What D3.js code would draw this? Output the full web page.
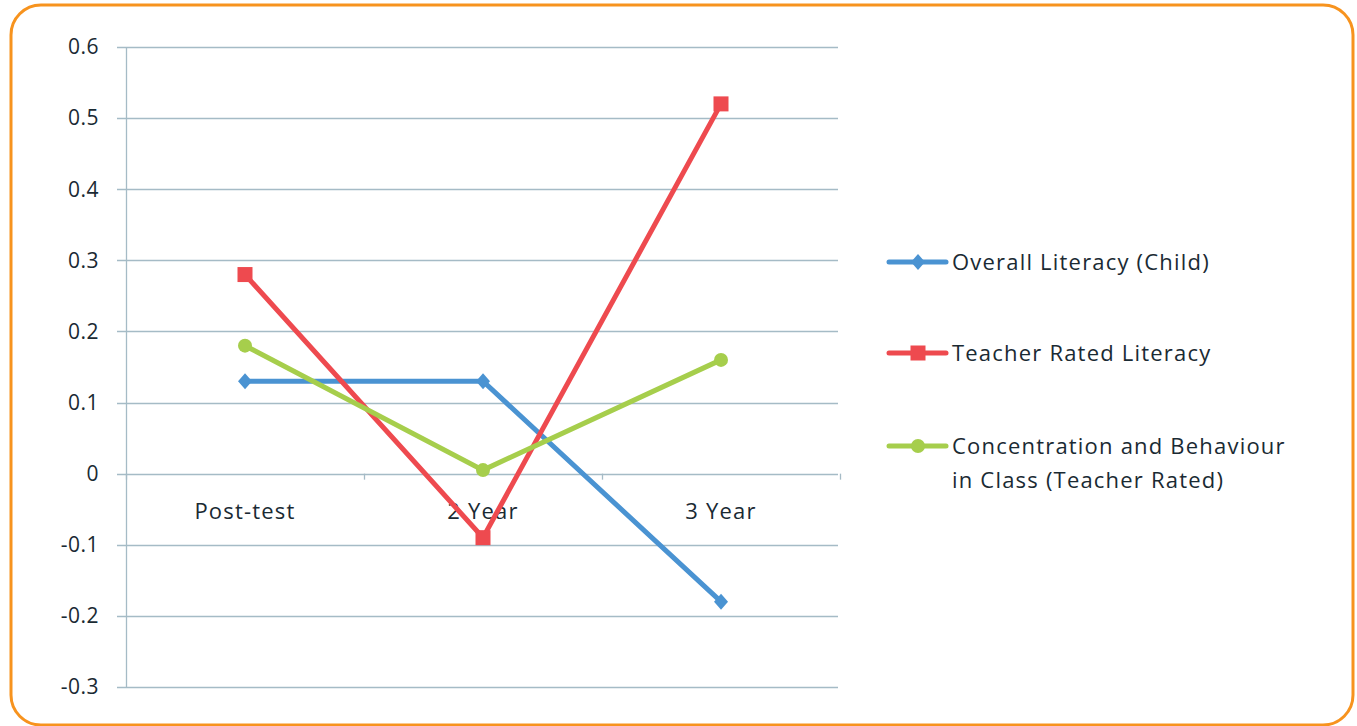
<!DOCTYPE html>
<html><head><meta charset="utf-8">
<script src="https://cdn.jsdelivr.net/npm/d3@7"></script>
<style>body{margin:0;background:#fff;}svg{display:block;font-family:"Open Sans",sans-serif;}</style>
</head><body>
<script>
const categories = ["Post-test", "2 Year", "3 Year"];
const overallLiteracy = [0.13, 0.13, -0.18];
const teacherRatedLiteracy = [0.28, -0.09, 0.52];
const concentrationBehaviour = [0.18, 0.005, 0.16];
const seriesNames = ["Overall Literacy (Child)", "Teacher Rated Literacy", "Concentration and Behaviour in Class (Teacher Rated)"];
const yTicks = [-0.3, -0.2, -0.1, 0, 0.1, 0.2, 0.3, 0.4, 0.5, 0.6];

(function () {
const W = 1357, H = 726;
const svg = d3.select("body").append("svg").attr("width", W).attr("height", H);

svg.append("rect").attr("x", 11).attr("y", 5).attr("width", 1342).attr("height", 720)
  .attr("rx", 30).attr("ry", 30).attr("fill", "#fff").attr("stroke", "#F7931E").attr("stroke-width", 3);

const pLeft = 126, pRight = 840, pTop = 47, pBottom = 687;
const x = d3.scaleBand().domain(categories).range([pLeft, pRight]);
const y = d3.scaleLinear().domain([-0.3, 0.6]).range([pBottom, pTop]);
const gridColor = "#A5BBC6", textColor = "#1A2A33";

svg.append("g").selectAll("line").data(yTicks).join("line")
  .attr("x1", pLeft - 9).attr("x2", pRight - 2)
  .attr("y1", d => Math.round(y(d)) + 0.5).attr("y2", d => Math.round(y(d)) + 0.5)
  .attr("stroke", gridColor).attr("stroke-width", 1.3);
svg.append("line").attr("x1", pLeft + 0.5).attr("x2", pLeft + 0.5).attr("y1", pTop).attr("y2", pBottom)
  .attr("stroke", gridColor).attr("stroke-width", 1.3);
svg.append("g").selectAll("text").data(yTicks).join("text")
  .attr("x", 99).attr("y", d => y(d)).attr("dy", "0.35em").attr("text-anchor", "end")
  .attr("font-size", 21).attr("letter-spacing", 0.5).attr("fill", textColor)
  .text(d => d === 0 ? "0" : d3.format(".1f")(d).replace("−", "-"));
const bounds = categories.map(c => x(c)).concat([x(categories[categories.length - 1]) + x.bandwidth()]);
svg.append("g").selectAll("line").data(bounds).join("line")
  .attr("x1", d => Math.round(d) + 0.5).attr("x2", d => Math.round(d) + 0.5)
  .attr("y1", y(0)).attr("y2", y(0) + 6).attr("stroke", gridColor).attr("stroke-width", 1.3);
svg.append("g").selectAll("text").data(categories).join("text")
  .attr("x", d => x(d) + x.bandwidth() / 2).attr("y", y(0) + 38).attr("dy", "0.35em").attr("text-anchor", "middle")
  .attr("font-size", 22).attr("letter-spacing", 1.2).attr("fill", textColor).text(d => d);

const series = [
  { name: seriesNames[0], values: overallLiteracy, color: "#4A93D2", shape: "diamond" },
  { name: seriesNames[1], values: teacherRatedLiteracy, color: "#EE4A4F", shape: "square" },
  { name: seriesNames[2], values: concentrationBehaviour, color: "#A6CE4C", shape: "circle" }
];
const line = d3.line().x((d, i) => x(categories[i]) + x.bandwidth() / 2).y(d => y(d));

function marker(g, shape, cx, cy, color) {
  if (shape === "diamond") {
    g.append("path").attr("d", `M${cx},${cy-8}L${cx+7},${cy}L${cx},${cy+8}L${cx-7},${cy}Z`).attr("fill", color);
  } else if (shape === "square") {
    g.append("rect").attr("x", cx - 7.5).attr("y", cy - 7.5).attr("width", 15).attr("height", 15).attr("fill", color);
  } else {
    g.append("circle").attr("cx", cx).attr("cy", cy).attr("r", 7).attr("fill", color);
  }
}

series.forEach(s => {
  const g = svg.append("g");
  g.append("path").attr("d", line(s.values)).attr("fill", "none").attr("stroke", s.color)
    .attr("stroke-width", 5).attr("stroke-linejoin", "miter");
  s.values.forEach((v, i) => marker(g, s.shape, x(categories[i]) + x.bandwidth() / 2, y(v), s.color));
});

const legY = [262, 353, 446];
series.forEach((s, i) => {
  const g = svg.append("g");
  g.append("line").attr("x1", 889).attr("x2", 946).attr("y1", legY[i]).attr("y2", legY[i])
    .attr("stroke", s.color).attr("stroke-width", 5).attr("stroke-linecap", "round");
  marker(g, s.shape, 918, legY[i], s.color);
  const t = g.append("text").attr("x", 952).attr("y", legY[i]).attr("dy", "0.35em")
    .attr("font-size", 22).attr("letter-spacing", 1.2).attr("fill", textColor);
  if (i === 2) {
    t.append("tspan").attr("x", 952).text("Concentration and Behaviour");
    t.append("tspan").attr("x", 952).attr("dy", "1.55em").text("in Class (Teacher Rated)");
  } else {
    t.text(s.name);
  }
});
})();
</script>
</body></html>
